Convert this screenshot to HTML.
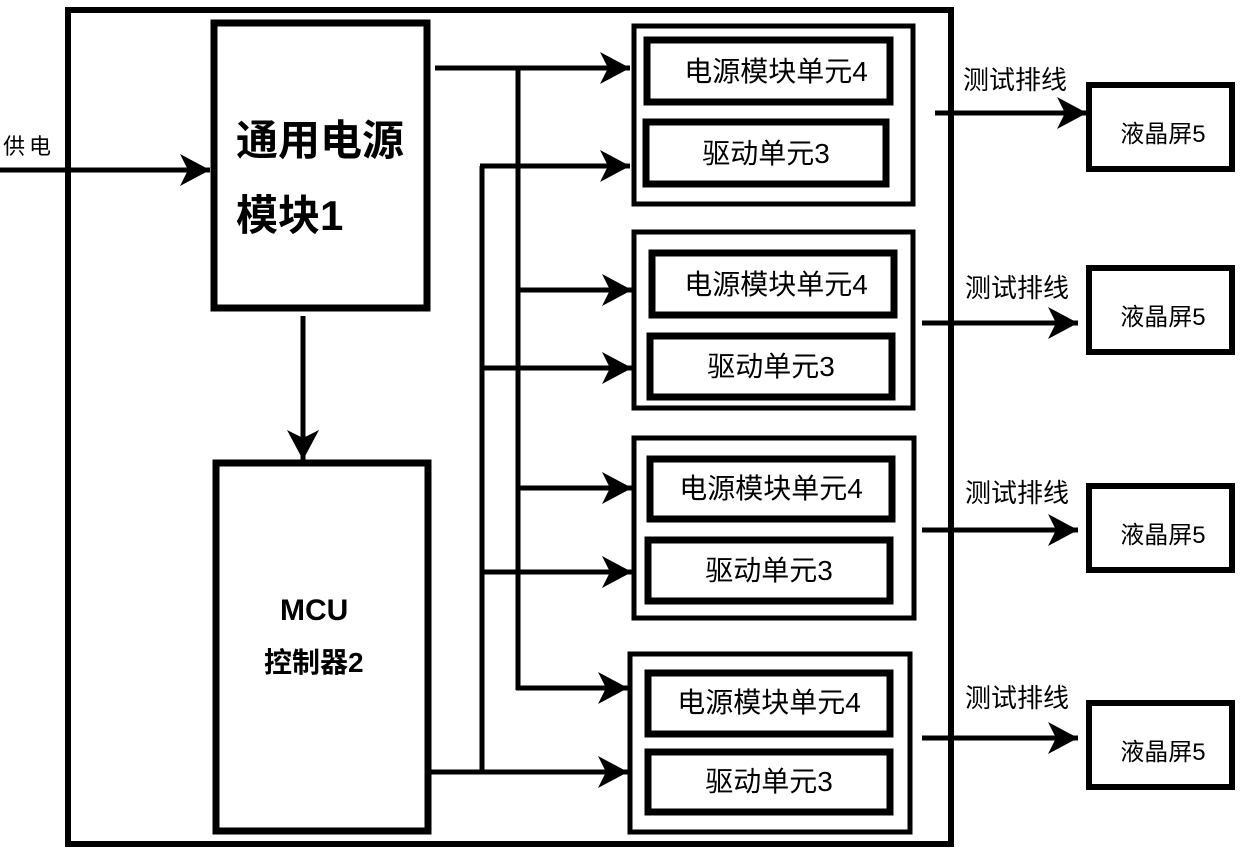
<!DOCTYPE html>
<html><head><meta charset="utf-8"><style>
html,body{margin:0;padding:0;background:#fff;}
svg{display:block;}
text{font-family:"Liberation Sans","Noto Sans CJK SC",sans-serif;fill:#000;}
</style></head><body>
<svg width="1240" height="851" viewBox="0 0 1240 851" xmlns="http://www.w3.org/2000/svg">
<defs>
<marker id="a" markerWidth="32" markerHeight="32" refX="30" refY="16" orient="auto" markerUnits="userSpaceOnUse">
<path d="M0,0 L30,16 L0,32 L8,16 Z" fill="#000"/>
</marker>
</defs>
<g fill="none" stroke="#000">
<rect x="68" y="10" width="883" height="834" stroke-width="6"/>
<rect x="214" y="23" width="213" height="285" stroke-width="7"/>
<rect x="216" y="463" width="212" height="368" stroke-width="7"/>
<rect x="634" y="26" width="279" height="178" stroke-width="5"/>
<rect x="634" y="232" width="279" height="176" stroke-width="5"/>
<rect x="634" y="438" width="280" height="180" stroke-width="5"/>
<rect x="630" y="654" width="280" height="178" stroke-width="5"/>
<g stroke-width="7">
<rect x="647" y="40" width="243" height="62"/>
<rect x="646" y="122" width="240" height="62"/>
<rect x="652" y="253" width="242" height="62"/>
<rect x="650" y="336" width="242" height="61"/>
<rect x="650" y="459" width="242" height="60"/>
<rect x="648" y="540" width="242" height="61"/>
<rect x="648" y="673" width="242" height="61"/>
<rect x="648" y="752" width="242" height="60"/>
</g>
<g stroke-width="6">
<rect x="1089" y="85" width="143" height="84"/>
<rect x="1089" y="268" width="143" height="84"/>
<rect x="1089" y="486" width="143" height="84"/>
<rect x="1089" y="703" width="143" height="84"/>
</g>
<g stroke-width="5">
<line x1="0" y1="170" x2="210" y2="170" marker-end="url(#a)"/>
<line x1="303" y1="316" x2="303" y2="460" marker-end="url(#a)"/>
<line x1="435" y1="68" x2="630" y2="68" marker-end="url(#a)"/>
<line x1="518" y1="68" x2="518" y2="690"/>
<line x1="518" y1="290" x2="632" y2="290" marker-end="url(#a)"/>
<line x1="518" y1="488" x2="632" y2="488" marker-end="url(#a)"/>
<line x1="516" y1="688" x2="628" y2="688" marker-end="url(#a)"/>
<line x1="431" y1="772" x2="628" y2="772" marker-end="url(#a)"/>
<line x1="482" y1="166" x2="482" y2="772"/>
<line x1="480" y1="166" x2="630" y2="166" marker-end="url(#a)"/>
<line x1="482" y1="368" x2="632" y2="368" marker-end="url(#a)"/>
<line x1="482" y1="572" x2="632" y2="572" marker-end="url(#a)"/>
<line x1="935" y1="113" x2="1087" y2="113" marker-end="url(#a)"/>
<line x1="922" y1="323" x2="1078" y2="323" marker-end="url(#a)"/>
<line x1="922" y1="530" x2="1078" y2="530" marker-end="url(#a)"/>
<line x1="922" y1="738" x2="1078" y2="738" marker-end="url(#a)"/>
</g>
</g>
<text x="3" y="154" font-size="22" letter-spacing="4">供电</text>
<text x="236" y="155" font-size="42" font-weight="bold">通用电源</text>
<text x="236" y="230" font-size="42" font-weight="bold">模块1</text>
<text x="280" y="620" font-size="30" font-weight="bold">MCU</text>
<text x="264" y="672" font-size="28" font-weight="bold">控制器2</text>
<g font-size="28" text-anchor="middle">
<text x="776" y="81">电源模块单元4</text>
<text x="766" y="163">驱动单元3</text>
<text x="776" y="294">电源模块单元4</text>
<text x="771" y="376">驱动单元3</text>
<text x="771" y="498">电源模块单元4</text>
<text x="769" y="580">驱动单元3</text>
<text x="769" y="712">电源模块单元4</text>
<text x="769" y="791">驱动单元3</text>
</g>
<g font-size="26">
<text x="963" y="89">测试排线</text>
<text x="965" y="297">测试排线</text>
<text x="965" y="502">测试排线</text>
<text x="965" y="707">测试排线</text>
</g>
<g font-size="24" text-anchor="middle">
<text x="1163" y="142">液晶屏5</text>
<text x="1163" y="325">液晶屏5</text>
<text x="1163" y="543">液晶屏5</text>
<text x="1163" y="760">液晶屏5</text>
</g>
</svg>
</body></html>
